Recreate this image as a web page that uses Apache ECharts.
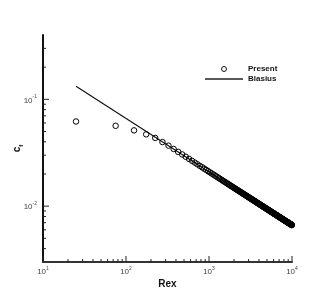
<!DOCTYPE html>
<html>
<head>
<meta charset="utf-8">
<script src="https://cdn.jsdelivr.net/npm/echarts@6/dist/echarts.min.js"></script>
<style>html,body{margin:0;padding:0;background:#fff}#c{width:332px;height:296px}</style>
</head>
<body>
<div id="c"></div>
<script>
// Present: Rex values and skin friction coefficient
const rex = [25,75,125,175,225,275,325,375,425,475,525,575,625,675,725,775,825,875,925,975,
1025,1075,1125,1175,1225,1275,1325,1375,1425,1475,1525,1575,1625,1675,1725,1775,1825,1875,1925,1975,
2025,2075,2125,2175,2225,2275,2325,2375,2425,2475,2525,2575,2625,2675,2725,2775,2825,2875,2925,2975,
3025,3075,3125,3175,3225,3275,3325,3375,3425,3475,3525,3575,3625,3675,3725,3775,3825,3875,3925,3975,
4025,4075,4125,4175,4225,4275,4325,4375,4425,4475,4525,4575,4625,4675,4725,4775,4825,4875,4925,4975,
5025,5075,5125,5175,5225,5275,5325,5375,5425,5475,5525,5575,5625,5675,5725,5775,5825,5875,5925,5975,
6025,6075,6125,6175,6225,6275,6325,6375,6425,6475,6525,6575,6625,6675,6725,6775,6825,6875,6925,6975,
7025,7075,7125,7175,7225,7275,7325,7375,7425,7475,7525,7575,7625,7675,7725,7775,7825,7875,7925,7975,
8025,8075,8125,8175,8225,8275,8325,8375,8425,8475,8525,8575,8625,8675,8725,8775,8825,8875,8925,8975,
9025,9075,9125,9175,9225,9275,9325,9375,9425,9475,9525,9575,9625,9675,9725,9775,9825,9875,9925,9975];
const cfPresent = [0.0620,0.0565,0.0512,0.0470,0.0435,0.0398,0.03683,0.03429,0.03221,0.03047,
0.02898,0.02769,0.02656,0.02556,0.02466,0.02385,0.02312,0.02245,0.02183,0.02127,
0.02074,0.02025,0.01980,0.01937,0.01897,0.01860,0.01824,0.01791,0.01759,0.01729,
0.01700,0.01673,0.01647,0.01622,0.01599,0.01576,0.01554,0.01533,0.01513,0.01494,
0.01476,0.01458,0.01440,0.01424,0.01408,0.01392,0.01377,0.01363,0.01348,0.01335,
0.01321,0.01309,0.01296,0.01284,0.01272,0.01260,0.01249,0.01238,0.01228,0.01217,
0.01207,0.01197,0.01188,0.01178,0.01169,0.01160,0.01152,0.01143,0.01135,0.01126,
0.01118,0.01111,0.01103,0.01095,0.01088,0.01081,0.01074,0.01067,0.01060,0.01053,
0.01047,0.01040,0.01034,0.01028,0.01022,0.01016,0.01010,0.01004,0.00998,0.00993,
0.00987,0.00982,0.00976,0.00971,0.00966,0.00961,0.00956,0.00951,0.00946,0.00941,
0.00937,0.00932,0.00928,0.00923,0.00919,0.00914,0.00910,0.00906,0.00902,0.00897,
0.00893,0.00889,0.00885,0.00881,0.00878,0.00874,0.00870,0.00866,0.00863,0.00859,
0.00855,0.00852,0.00848,0.00845,0.00842,0.00838,0.00835,0.00832,0.00828,0.00825,
0.00822,0.00819,0.00816,0.00813,0.00810,0.00807,0.00804,0.00801,0.00798,0.00795,
0.00792,0.00789,0.00787,0.00784,0.00781,0.00778,0.00776,0.00773,0.00771,0.00768,
0.00765,0.00763,0.00760,0.00758,0.00755,0.00753,0.00751,0.00748,0.00746,0.00744,
0.00741,0.00739,0.00737,0.00734,0.00732,0.00730,0.00728,0.00726,0.00723,0.00721,
0.00719,0.00717,0.00715,0.00713,0.00711,0.00709,0.00707,0.00705,0.00703,0.00701,
0.00699,0.00697,0.00695,0.00693,0.00691,0.00689,0.00688,0.00686,0.00684,0.00682,
0.00680,0.00679,0.00677,0.00675,0.00673,0.00672,0.00670,0.00668,0.00667,0.00665];
// Blasius line end points
const rexBlasius = [25, 10000];
const cfBlasius = [0.1328, 0.00664];
// axis ticks
const xMajorTicks = [10, 100, 1000, 10000];
const xMinorTicks = [20,30,40,50,60,70,80,90,200,300,400,500,600,700,800,900,2000,3000,4000,5000,6000,7000,8000,9000];
const yMajorTicks = [0.01, 0.1];
const yMinorTicks = [0.004,0.005,0.006,0.007,0.008,0.009,0.02,0.03,0.04,0.05,0.06,0.07,0.08,0.09,0.2,0.3];
const xMin = 10, xMax = 10000, yMin = 0.003, yMax = 0.4;

const FONT = 'Liberation Sans, Arial, sans-serif';
function powLabel(v) {
  const e = Math.log10(v);
  const r = Math.round(e);
  if (Math.abs(e - r) < 1e-6) return '{b|10}{s|' + r + '}';
  return '';
}
const richLab = {
  b: {fontSize: 8, color: '#444', fontFamily: FONT, verticalAlign: 'bottom', lineHeight: 10},
  s: {fontSize: 5, color: '#444', fontFamily: FONT, verticalAlign: 'top', lineHeight: 10}
};
function tickSeries(vals, isX, len) {
  return {
    type: 'custom', silent: true, z: 5, clip: false,
    data: vals.map(v => isX ? [v, yMin] : [xMin, v]),
    renderItem: function (params, api) {
      const p = api.coord([api.value(0), api.value(1)]);
      const shape = isX ? {x1: p[0], y1: p[1], x2: p[0], y2: p[1] - len}
                        : {x1: p[0], y1: p[1], x2: p[0] + len, y2: p[1]};
      return {type: 'line', shape: shape, style: {stroke: '#222', lineWidth: 1}};
    }
  };
}

const chart = echarts.init(document.getElementById('c'), null, {renderer: 'canvas'});
chart.setOption({
  animation: false,
  backgroundColor: '#fff',
  grid: {left: 43, right: 40, top: 35, bottom: 34, containLabel: false, outerBoundsMode: 'none'},
  legend: {
    orient: 'vertical', left: 200, top: 60,
    itemWidth: 38, itemHeight: 5, itemGap: 2,
    data: [
      {name: 'Present', icon: 'circle', itemStyle: {color: 'rgba(0,0,0,0)', borderColor: '#000', borderWidth: 0.9}},
      {name: 'Blasius', icon: 'path://M0,0L38,0L38,1.4L0,1.4Z', itemStyle: {color: '#222', borderWidth: 0}}
    ],
    textStyle: {fontSize: 8, fontWeight: 'bold', color: '#111', fontFamily: FONT}
  },
  xAxis: {
    type: 'log', logBase: 10, min: xMin, max: xMax,
    name: 'Rex', nameLocation: 'middle', nameGap: 17, nameMoveOverlap: false,
    nameTextStyle: {fontSize: 10, fontWeight: 'bold', color: '#111', fontFamily: FONT},
    axisLine: {lineStyle: {color: '#333', width: 2}},
    axisTick: {show: false}, splitLine: {show: false},
    axisLabel: {formatter: powLabel, rich: richLab, margin: 4, showMinLabel: true, showMaxLabel: true}
  },
  yAxis: {
    type: 'log', logBase: 10, min: yMin, max: yMax,
    name: '{c|c}{f|f}', nameLocation: 'middle', nameGap: 19, nameRotate: 90, nameMoveOverlap: false,
    nameTextStyle: {rich: {
      c: {fontSize: 10, fontWeight: 'bold', color: '#111', fontFamily: FONT, verticalAlign: 'top', lineHeight: 12},
      f: {fontSize: 6, fontWeight: 'bold', color: '#111', fontFamily: FONT, verticalAlign: 'bottom', lineHeight: 12}
    }},
    axisLine: {lineStyle: {color: '#111', width: 2}},
    axisTick: {show: false}, splitLine: {show: false},
    axisLabel: {formatter: powLabel, rich: richLab, margin: 6}
  },
  series: [
    {
      name: 'Present', type: 'scatter', symbol: 'circle', symbolSize: 5.5, z: 3,
      itemStyle: {color: 'rgba(0,0,0,0)', borderColor: '#000', borderWidth: 1, opacity: 1},
      data: rex.map((r, i) => [r, cfPresent[i]])
    },
    {
      name: 'Blasius', type: 'line', symbol: 'none', z: 2,
      itemStyle: {color: '#111'},
      lineStyle: {color: '#111', width: 1.2},
      data: rexBlasius.map((r, i) => [r, cfBlasius[i]])
    },
    tickSeries(xMajorTicks, true, 6),
    tickSeries(xMinorTicks, true, 3),
    tickSeries(yMajorTicks, false, 6),
    tickSeries(yMinorTicks, false, 3)
  ]
});
</script>
</body>
</html>
